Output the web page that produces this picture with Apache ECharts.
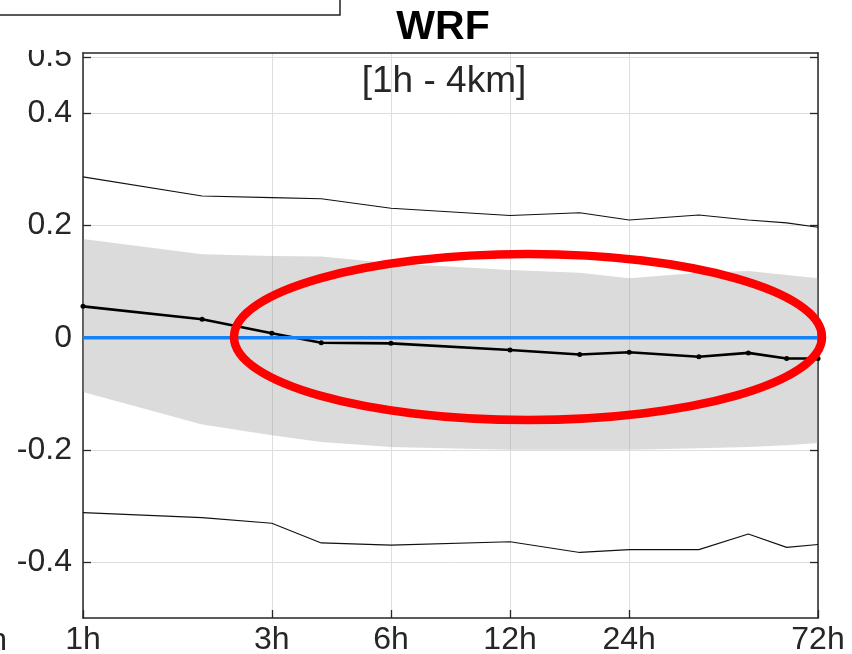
<!DOCTYPE html>
<html>
<head>
<meta charset="utf-8">
<script src="https://cdn.jsdelivr.net/npm/echarts@6/dist/echarts.min.js"></script>
<style>
  html, body { margin: 0; padding: 0; background: #ffffff; }
  #chart { width: 852px; height: 654px; }
</style>
</head>
<body>
<div id="chart"></div>
<script>
// Forecast lead times (hours) at which the statistics are evaluated
const leadHours = [1, 2, 3, 4, 6, 12, 18, 24, 36, 48, 60, 72];
// Mean bias
const meanBias = [0.056, 0.033, 0.008, -0.009, -0.010, -0.022, -0.030, -0.026, -0.034, -0.027, -0.037, -0.037];
// Extreme envelope (thin lines)
const upperExtreme = [0.287, 0.253, 0.250, 0.248, 0.231, 0.218, 0.223, 0.210, 0.219, 0.210, 0.205, 0.197];
const lowerExtreme = [-0.312, -0.321, -0.331, -0.366, -0.370, -0.364, -0.383, -0.378, -0.378, -0.350, -0.374, -0.369];
// Shaded spread band
const bandTop = [0.176, 0.149, 0.146, 0.145, 0.133, 0.121, 0.116, 0.106, 0.116, 0.119, 0.112, 0.106];
const bandBottom = [-0.097, -0.155, -0.174, -0.186, -0.195, -0.200, -0.200, -0.200, -0.197, -0.195, -0.192, -0.188];
// Zero reference line
const zeroLine = [0, 0];
const zeroSpan = [1, 72];
// Axis ticks
const xTicks = [1, 3, 6, 12, 24, 72];
const yTicks = [-0.4, -0.2, 0, 0.2, 0.4, 0.5];

const axisColor = '#262626';
const font = 'Liberation Sans, Arial, Helvetica, sans-serif';

const pairs = (xs, ys) => xs.map((x, i) => [x, ys[i]]);

const chart = echarts.init(document.getElementById('chart'), null, { renderer: 'canvas' });

// Band polygon: top edge left->right, bottom edge right->left, placed via the axes
function renderBand(params, api) {
  const top = leadHours.map((h, i) => api.coord([h, bandTop[i]]));
  const bottom = leadHours.map((h, i) => api.coord([h, bandBottom[i]])).reverse();
  return {
    type: 'polygon',
    shape: { points: top.concat(bottom) },
    style: { fill: 'rgba(150,150,150,0.34)' },
    silent: true
  };
}

chart.setOption({
  animation: false,
  backgroundColor: '#ffffff',
  grid: { left: 83, right: 34, top: 53, bottom: 36, containLabel: false, outerBoundsMode: 'none' },
  xAxis: [{
    type: 'log',
    logBase: 10,
    min: 1,
    max: 72,
    position: 'bottom',
    axisLine: { show: true, onZero: false, lineStyle: { color: axisColor, width: 1.5 } },
    axisTick: { show: true, inside: true, length: 8, customValues: xTicks, lineStyle: { color: axisColor, width: 1.3 } },
    axisLabel: {
      show: true, customValues: xTicks, margin: 6,
      fontSize: 32, fontFamily: font, color: axisColor,
      formatter: v => Math.round(v) + 'h'
    },
    splitLine: { show: true, lineStyle: { color: '#dedede', width: 1 } },
    minorTick: { show: false }, minorSplitLine: { show: false }
  }, {
    type: 'log',
    logBase: 10,
    min: 1,
    max: 72,
    position: 'top',
    axisLine: { show: true, onZero: false, lineStyle: { color: axisColor, width: 1.5 } },
    axisTick: { show: false },
    axisLabel: { show: false },
    splitLine: { show: false }
  }],
  yAxis: [{
    type: 'value',
    min: -0.5,
    max: 0.508,
    position: 'left',
    axisLine: { show: true, onZero: false, lineStyle: { color: axisColor, width: 1.5 } },
    axisTick: { show: true, inside: true, length: 8, customValues: yTicks, lineStyle: { color: axisColor, width: 1.3 } },
    axisLabel: {
      show: true, customValues: yTicks, margin: 11,
      fontSize: 32, fontFamily: font, color: axisColor,
      formatter: v => (Math.abs(v) < 1e-9 ? '0' : String(+v.toFixed(1)))
    },
    splitLine: { show: true, lineStyle: { color: '#dedede', width: 1 } }
  }, {
    type: 'value',
    min: -0.5,
    max: 0.508,
    position: 'right',
    axisLine: { show: true, onZero: false, lineStyle: { color: axisColor, width: 1.5 } },
    axisTick: { show: true, inside: true, length: 8, customValues: yTicks, lineStyle: { color: axisColor, width: 1.3 } },
    axisLabel: { show: false },
    splitLine: { show: false }
  }],
  series: [
    {
      name: 'band', type: 'custom', renderItem: renderBand,
      data: [[leadHours[0], bandTop[0]]], silent: true, z: 1
    },
    {
      name: 'upper', type: 'line', data: pairs(leadHours, upperExtreme),
      symbol: 'none', lineStyle: { color: '#111111', width: 1.1 }, z: 3
    },
    {
      name: 'lower', type: 'line', data: pairs(leadHours, lowerExtreme),
      symbol: 'none', lineStyle: { color: '#111111', width: 1.1 }, z: 3
    },
    {
      name: 'mean', type: 'line', data: pairs(leadHours, meanBias),
      symbol: 'circle', symbolSize: 5,
      itemStyle: { color: '#000000' },
      lineStyle: { color: '#000000', width: 2.6 }, z: 4
    },
    {
      name: 'zero', type: 'line', data: pairs(zeroSpan, zeroLine),
      symbol: 'none', lineStyle: { color: '#1583f7', width: 3.5 }, z: 5
    }
  ],
  graphic: [
    // legend frame of the neighbouring panel
    { type: 'rect', shape: { x: -10, y: -10, width: 350, height: 25 },
      style: { fill: '#ffffff', stroke: '#222222', lineWidth: 1.5 }, z: 10 },
    // clipped top label area
    { type: 'rect', shape: { x: 10, y: 17, width: 66, height: 33 },
      style: { fill: '#ffffff' }, z: 10 },
    { type: 'text', x: 443, y: 28,
      style: { text: 'WRF', font: 'bold 41px ' + font, fill: '#000000', align: 'center', verticalAlign: 'middle' }, z: 10 },
    { type: 'text', x: 444, y: 82,
      style: { text: '[1h - 4km]', font: '37px ' + font, fill: axisColor, align: 'center', verticalAlign: 'middle' }, z: 10 },
    { type: 'text', x: 7, y: 641,
      style: { text: '72h', font: '32px ' + font, fill: axisColor, align: 'right', verticalAlign: 'middle' }, z: 10 },
    // highlight ellipse
    { type: 'ellipse', shape: { cx: 528, cy: 337, rx: 294, ry: 83 },
      style: { fill: 'none', stroke: '#ff0000', lineWidth: 8.5 }, z: 20 }
  ]
});
</script>
</body>
</html>
